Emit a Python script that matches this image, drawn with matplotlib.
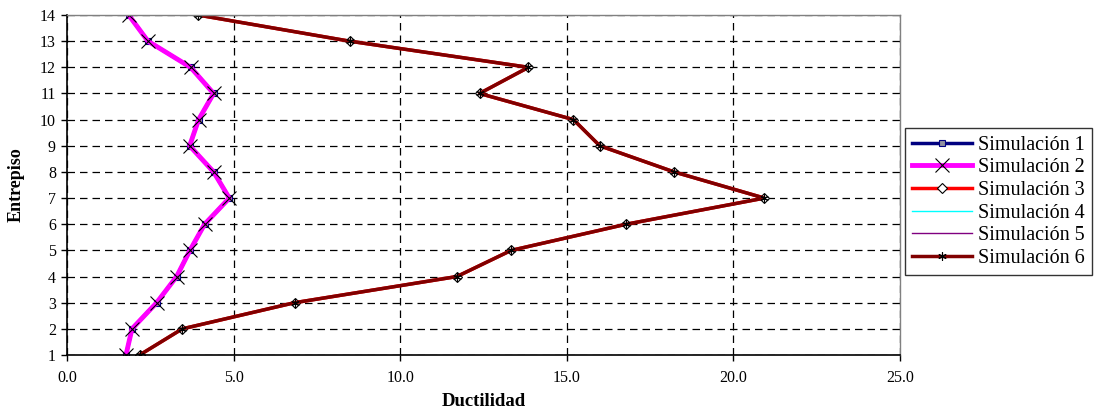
"""
Ductilidad por entrepiso - seis simulaciones.
"""

import matplotlib
matplotlib.use("Agg")
import matplotlib.pyplot as plt
from matplotlib.ticker import FormatStrFormatter

# entrepisos 1..14
entrepiso = [1, 2, 3, 4, 5, 6, 7, 8, 9, 10, 11, 12, 13, 14]

# simulaciones 1 y 2 (se superponen)
ductilidad_a = [1.77, 1.95, 2.69, 3.29, 3.69, 4.13, 4.87, 4.40, 3.68, 3.95, 4.40, 3.71, 2.43, 1.85]
# simulaciones 3 a 6 (se superponen)
ductilidad_b = [2.18, 3.46, 6.83, 11.70, 13.33, 16.78, 20.93, 18.22, 15.99, 15.20, 12.38, 13.85, 8.48, 3.93]

simulaciones = ["Simulación 1", "Simulación 2", "Simulación 3",
                "Simulación 4", "Simulación 5", "Simulación 6"]
datos = [ductilidad_a, ductilidad_a, ductilidad_b, ductilidad_b, ductilidad_b, ductilidad_b]

estilos = [
    dict(color="#000080", lw=2.5, marker="s", ms=4, mfc="#9090a0", mec="#000080", mew=0.8),
    dict(color="#ff00ff", lw=3.5, marker="x", ms=10, mec="black", mew=0.8),
    dict(color="#ff0000", lw=2.5, marker="D", ms=5, mfc="white", mec="black", mew=0.8),
    dict(color="#00ffff", lw=1.0, marker=None),
    dict(color="#800080", lw=1.0, marker=None),
    dict(color="#800000", lw=2.5, marker=(6, 2, 0), ms=6, mec="black", mew=0.8),
]

plt.rcParams["font.family"] = ["Liberation Serif", "DejaVu Serif"]

fig = plt.figure(figsize=(11.02, 4.09), dpi=100)
ax = fig.add_axes([0.0608, 0.132, 0.7559, 0.8313])

for nombre, serie, estilo in zip(simulaciones, datos, estilos):
    ax.plot(serie, entrepiso, label=nombre, **estilo)

ax.set_xlim(0, 25)
ax.set_ylim(1, 14)
ax.set_xticks([0, 5, 10, 15, 20, 25])
ax.set_yticks(entrepiso)
ax.xaxis.set_major_formatter(FormatStrFormatter("%.1f"))

ax.grid(True, color="black", linestyle=(0, (6, 4)), linewidth=0.9)
ax.set_axisbelow(True)

for lado in ["top", "right"]:
    ax.spines[lado].set_color("#808080")
    ax.spines[lado].set_linewidth(1.0)
for lado in ["left", "bottom"]:
    ax.spines[lado].set_color("black")
    ax.spines[lado].set_linewidth(1.2)

ax.tick_params(axis="both", direction="out", length=4, width=1, labelsize=11.5, colors="black", pad=4)
ax.tick_params(axis="x", pad=7)

ax.set_xlabel("Ductilidad", fontsize=13.5, fontweight="bold", labelpad=5)
ax.set_ylabel("Entrepiso", fontsize=13, fontweight="bold", labelpad=11)

leg = ax.legend(loc="upper left", bbox_to_anchor=(0.821, 0.686), bbox_transform=fig.transFigure,
                fontsize=14.5, frameon=True, fancybox=False, borderaxespad=0,
                handlelength=3.0, handletextpad=0.3, labelspacing=0.18, borderpad=0.35)
leg.get_frame().set_edgecolor("black")
leg.get_frame().set_linewidth(1.0)

fig.savefig("out.png", dpi=100)
